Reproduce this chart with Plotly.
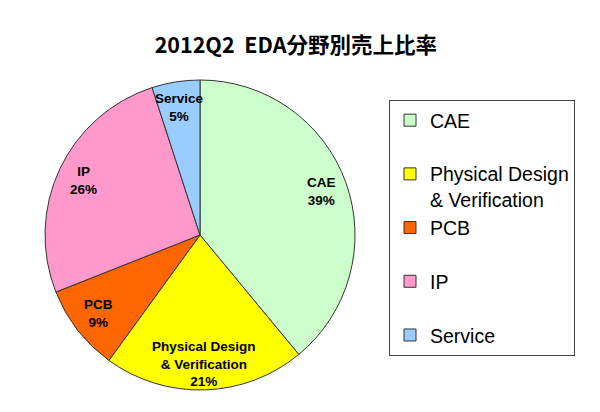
import math
import plotly.graph_objects as go

categories = ["CAE", "Physical Design<br>& Verification", "PCB", "IP", "Service"]
legend_labels = ["CAE<br> ", "Physical Design<br>& Verification", "PCB<br> ", "IP<br> ", "Service"]
values = [39, 21, 9, 26, 5]
colors = ["#CCFFCC", "#FFFF00", "#FF6600", "#FF99CC", "#99CCFF"]
title_text = "2012Q2\u00a0\u00a0EDA分野別売上比率"

W, H = 600, 412
cx_px, cy_px, rad_px = 200, 235, 155

fig = go.Figure()
fig.add_trace(go.Pie(
    labels=legend_labels,
    values=values,
    sort=False,
    direction="clockwise",
    rotation=0,
    marker=dict(colors=colors, line=dict(color="#333333", width=1)),
    textinfo="none",
    hoverinfo="label+percent",
    domain=dict(x=[(cx_px - rad_px) / W, (cx_px + rad_px) / W],
                y=[1 - (cy_px + rad_px) / H, 1 - (cy_px - rad_px) / H]),
))

total = sum(values)
cum = 0
annotations = []
for cat, v in zip(categories, values):
    mid = (cum + v / 2) / total * 2 * math.pi
    cum += v
    r = rad_px * 0.83
    x = (cx_px + r * math.sin(mid)) / W
    y = 1 - (cy_px - r * math.cos(mid)) / H
    annotations.append(dict(
        x=x, y=y, xref="paper", yref="paper", xanchor="center", yanchor="middle",
        text=f"<b>{cat}<br>{round(v / total * 100)}%</b>",
        showarrow=False, align="center",
        font=dict(size=13.5, color="black", family="Liberation Sans, Arial, sans-serif"),
    ))

fig.update_layout(
    width=W, height=H,
    margin=dict(l=0, r=0, t=0, b=0),
    paper_bgcolor="white", plot_bgcolor="white",
    title=dict(text="<b>" + title_text + "</b>", x=0.493, xanchor="center", y=1 - 45 / H, yanchor="middle",
               font=dict(size=21.5, color="black", family="Noto Sans CJK JP, sans-serif")),
    legend=dict(x=389 / W, y=1 - 100 / H, xanchor="left", yanchor="top",
                valign="top", bordercolor="#444444", borderwidth=1, bgcolor="white",
                font=dict(size=19.5, color="black", family="Liberation Sans, Arial, sans-serif")),
    annotations=annotations,
)

fig.write_html("out.html")
